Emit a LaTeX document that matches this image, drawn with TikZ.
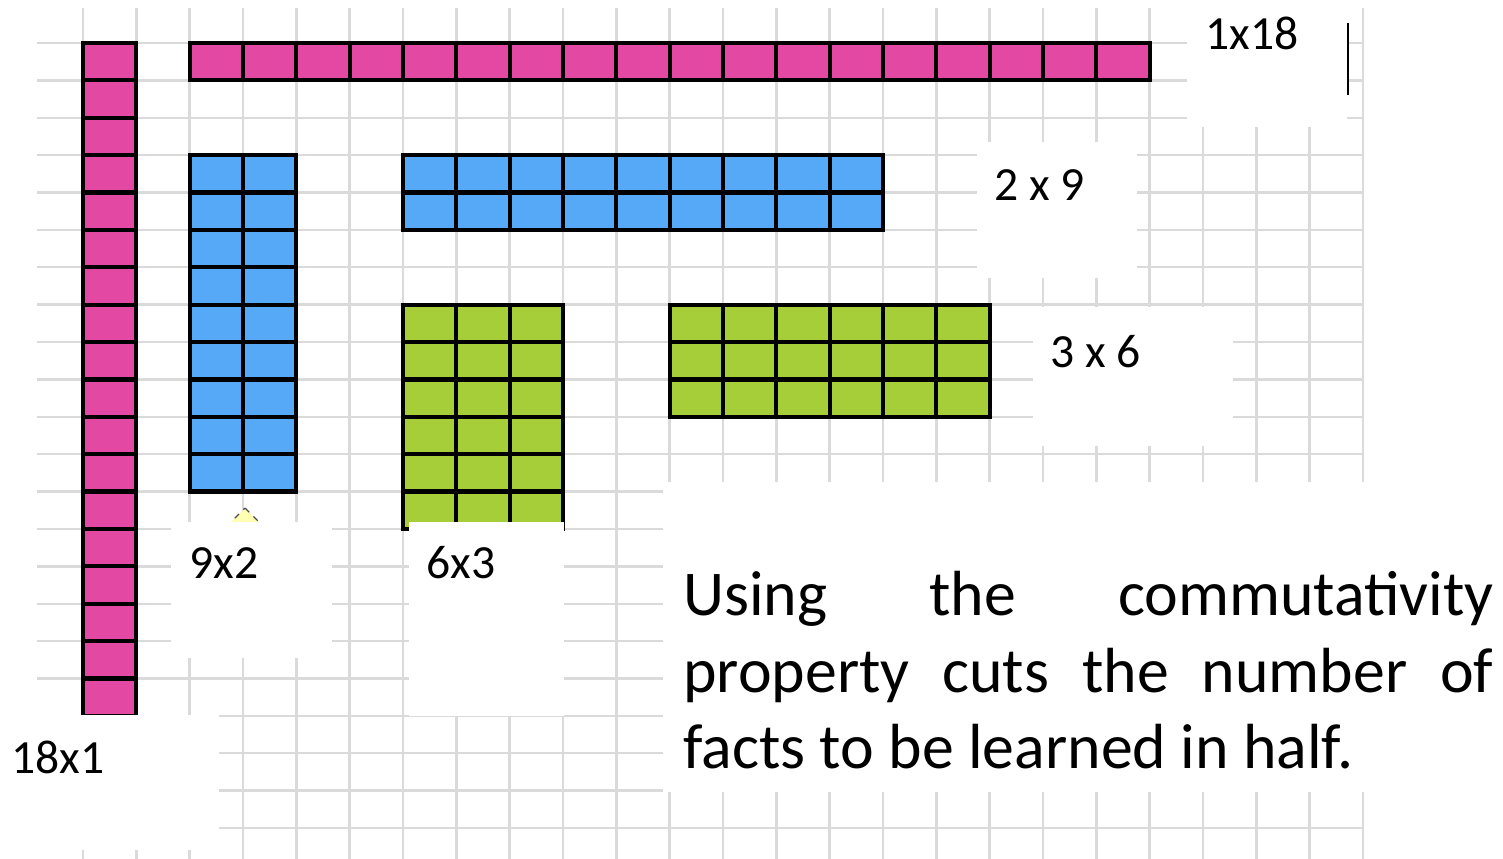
\documentclass[tikz,border=0pt]{standalone}
\usepackage{fontspec}
\setmainfont{Carlito}
\definecolor{pinkc}{HTML}{E349A3}
\definecolor{bluec}{HTML}{55A9F6}
\definecolor{greenc}{HTML}{A6CE39}
\definecolor{gridc}{HTML}{DADADA}
\definecolor{yellowc}{HTML}{FFFFB4}
\tikzset{
  gridline/.style={draw=gridc, line width=1.2pt},
  cellline/.style={draw=black, line width=2.1pt, line cap=rect},
  whitebox/.style={fill=white},
  lbl/.style={anchor=base west, inner sep=0pt, font=\fontsize{23.8}{28}\selectfont},
  body/.style={anchor=base west, inner sep=0pt, font=\fontsize{31.9}{38}\selectfont},
}
\newcommand\cellbar[5]{%
  \fill[#1] (#2,#3) rectangle ({#2+#4},{#3+#5});
  \foreach \i in {0,...,#4} \draw[cellline] ({#2+\i},#3) -- ({#2+\i},{#3+#5});
  \foreach \j in {0,...,#5} \draw[cellline] (#2,{#3+\j}) -- ({#2+#4},{#3+\j});
}
\begin{document}
\begin{tikzpicture}[x=0.5pt, y=-0.5pt]
\useasboundingbox (0,0) rectangle (1503,858);
\fill[white] (0,0) rectangle (1503,858);
% cell-unit scope
\begin{scope}[shift={(83,43)}, x=26.6667pt, y=-18.6905pt]
  \foreach \i in {0,...,24} \draw[gridline] (\i,-0.936) -- (\i,22);
  \foreach \j in {0,...,21} \draw[gridline] (-0.8625,\j) -- (24,\j);
  \cellbar{pinkc}{0}{0}{1}{18}
  \cellbar{pinkc}{2}{0}{18}{1}
  \cellbar{bluec}{2}{3}{2}{9}
  \cellbar{bluec}{6}{3}{9}{2}
  \cellbar{greenc}{6}{7}{3}{6}
  \cellbar{greenc}{11}{7}{6}{3}
\end{scope}
% partly hidden yellow shape
\draw[fill=yellowc, draw=black!70, dashed, line width=0.6pt] (245,508) -- (273,536) -- (245,564) -- (217,536) -- cycle;
% white label boxes
\fill[whitebox] (1187,0) rectangle (1347,127);
\fill[whitebox] (977,142) rectangle (1137,278);
\fill[whitebox] (1033,307) rectangle (1233,446);
\fill[whitebox] (171,522) rectangle (332,658);
\fill[whitebox] (409,522) rectangle (564,716);
\fill[whitebox] (0,715) rectangle (219,850);
\fill[whitebox] (663,482) rectangle (1503,792);
% labels
\node[lbl] (l1x18) at (1205,49) {1x18};
\node[lbl] (l2x9) at (994,200) {2 x 9};
\node[lbl] (l3x6) at (1050,367) {3 x 6};
\node[lbl] (l9x2) at (189,578) {9x2};
\node[lbl] (l6x3) at (426,578) {6x3};
\node[lbl] (l18x1) at (11,773) {18x1};
% cursor mark
\coordinate (curA) at (1348,23);
\coordinate (curB) at (1348,95);
\draw[black, line width=1pt] (curA) -- (curB);
% body text
\node[body] (t1) at (683,615) {\makebox[405pt][s]{Using the commutativity}};
\node[body] (t2) at (683,692) {\makebox[405pt][s]{property cuts the number of}};
\node[body] (t3) at (683,768) {facts to be learned in half.};
\end{tikzpicture}
\end{document}
